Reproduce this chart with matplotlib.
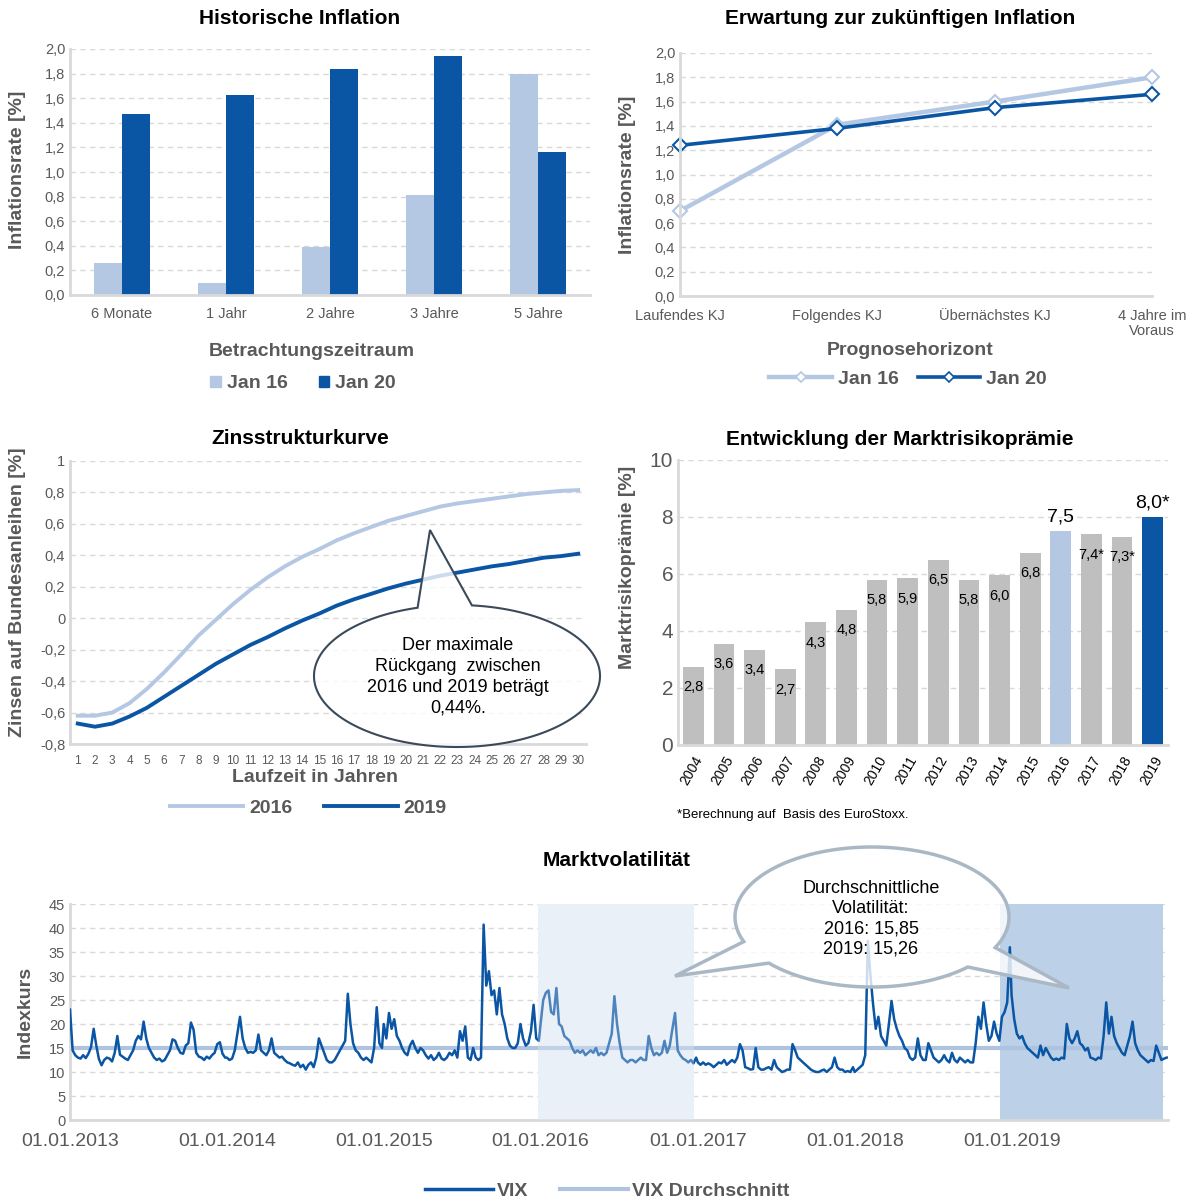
import numpy as np
import pandas as pd
import matplotlib
matplotlib.use('Agg')
import matplotlib.pyplot as plt
from matplotlib.path import Path
from matplotlib.patches import PathPatch, Patch
from matplotlib.lines import Line2D

plt.rcParams['font.family'] = ['Liberation Sans', 'DejaVu Sans']

# ---- data ----
hist_cats = ['6 Monate', '1 Jahr', '2 Jahre', '3 Jahre', '5 Jahre']
hist_jan16 = [0.26, 0.10, 0.39, 0.81, 1.80]
hist_jan20 = [1.47, 1.63, 1.84, 1.94, 1.16]

exp_cats = ['Laufendes KJ', 'Folgendes KJ', 'Übernächstes KJ', '4 Jahre im\nVoraus']
exp_jan16 = [0.70, 1.41, 1.60, 1.80]
exp_jan20 = [1.24, 1.38, 1.55, 1.66]

laufzeit = list(range(1, 31))
zins_2016 = [-0.62, -0.62, -0.60, -0.54, -0.45, -0.345, -0.23, -0.11, -0.01, 0.09,
             0.18, 0.26, 0.33, 0.39, 0.44, 0.495, 0.54, 0.58, 0.62, 0.65,
             0.68, 0.71, 0.73, 0.745, 0.76, 0.775, 0.79, 0.80, 0.81, 0.815]
zins_2019 = [-0.67, -0.69, -0.67, -0.625, -0.57, -0.50, -0.43, -0.36, -0.29, -0.23,
             -0.17, -0.12, -0.065, -0.015, 0.03, 0.08, 0.12, 0.155, 0.19, 0.22,
             0.245, 0.27, 0.29, 0.31, 0.33, 0.345, 0.365, 0.385, 0.395, 0.41]

mrp_years = list(range(2004, 2020))
mrp_values = [2.75, 3.55, 3.35, 2.65, 4.3, 4.75, 5.8, 5.85, 6.5, 5.8, 5.95, 6.75, 7.5, 7.4, 7.3, 8.0]
mrp_labels = ['2,8', '3,6', '3,4', '2,7', '4,3', '4,8', '5,8', '5,9', '6,5', '5,8', '6,0', '6,8',
              '7,5', '7,4*', '7,3*', '8,0*']

vix_2013 = [23.0, 14.5, 13.5, 13.0, 12.8, 13.5, 12.9, 13.8, 15.2, 19.0,
            15.5, 12.7, 11.4, 12.5, 13.0, 12.8, 12.2, 14.0, 17.5, 13.6,
            13.2, 12.8, 12.5, 13.5, 14.5, 16.5, 17.5, 16.8, 20.5, 17.0,
            15.0, 14.0, 13.0, 12.5, 12.8, 12.2, 12.5, 13.5, 14.5, 16.8,
            16.5, 15.0, 14.0, 13.8, 15.5, 16.0, 20.3, 18.8, 14.0, 13.2,
            13.0, 12.5, 13.2, 12.8, 13.5, 14.0, 15.8, 16.2, 13.8, 13.0]
vix_2014 = [13.0, 12.5, 12.8, 14.5, 18.0, 21.5, 17.0, 15.0, 14.0, 14.2,
            14.0, 14.5, 17.8, 14.5, 14.0, 13.5, 14.5, 17.0, 14.0, 13.5,
            13.0, 13.2, 12.5, 12.0, 11.8, 11.5, 11.3, 12.0, 11.0, 11.5,
            10.5, 11.5, 12.0, 11.0, 13.0, 17.0, 15.5, 14.0, 12.5, 12.0,
            12.0, 12.5, 13.5, 14.5, 15.5, 16.5, 26.3, 20.0, 16.0, 14.5,
            14.0, 13.0, 12.5, 13.0, 12.5, 12.0, 15.0, 23.5, 16.0, 15.0]
vix_2015 = [20.0, 17.0, 22.3, 19.0, 21.0, 17.5, 16.5, 15.0, 14.0, 13.5,
            15.5, 16.5, 15.0, 14.0, 15.0, 14.5, 13.5, 12.8, 13.5, 12.5,
            13.0, 14.0, 12.8, 12.5, 13.0, 14.0, 13.5, 14.5, 13.0, 18.5,
            16.5, 19.5, 13.0, 12.5, 15.0, 13.0, 12.5, 13.0, 40.7, 28.0,
            31.0, 26.0, 27.0, 22.0, 27.5, 22.0, 20.0, 17.0, 15.5, 15.0,
            15.0, 16.0, 20.0, 17.0, 15.5, 16.0, 18.5, 24.0, 17.0, 16.5]
vix_2016 = [20.0, 25.0, 26.5, 27.0, 22.5, 22.0, 27.5, 20.0, 19.5, 17.5,
            17.0, 16.5, 15.0, 14.0, 14.5, 14.0, 14.5, 13.5, 14.0, 14.5,
            14.0, 15.0, 13.5, 14.0, 13.5, 14.0, 16.0, 18.0, 25.8, 20.0,
            16.0, 13.0, 12.5, 12.0, 12.5, 12.5, 12.0, 12.5, 13.0, 12.5,
            12.5, 17.5, 15.0, 13.5, 14.0, 13.5, 14.0, 16.5, 14.0, 15.5,
            19.0, 22.3, 14.5, 13.5, 12.8, 12.5, 12.0, 12.5, 11.8, 13.0]
vix_2017 = [12.0, 11.5, 12.0, 11.5, 11.8, 11.5, 11.0, 11.5, 12.0, 11.8,
            12.5, 11.5, 12.0, 12.5, 12.0, 13.0, 15.8, 14.5, 11.0, 10.8,
            10.5, 10.6, 15.0, 11.0, 10.5, 10.5, 10.8, 11.0, 10.5, 12.5,
            11.0, 10.5, 10.0, 10.2, 10.5, 10.5, 15.8, 14.5, 13.0, 12.5,
            12.0, 11.5, 11.0, 10.5, 10.2, 10.0, 10.0, 10.3, 10.5, 10.0,
            10.5, 11.0, 13.0, 11.0, 10.5, 10.5, 10.0, 10.2, 10.0, 11.0]
vix_2018 = [10.0, 10.5, 11.0, 11.5, 13.5, 37.3, 30.0, 24.0, 19.0, 21.5,
            17.5, 16.5, 15.5, 20.0, 24.8, 21.0, 19.0, 17.5, 16.5, 15.0,
            14.5, 13.0, 12.5, 13.0, 17.0, 13.5, 12.5, 12.5, 16.0, 14.5,
            13.0, 12.5, 12.0, 12.5, 13.5, 12.5, 12.0, 14.0, 12.5, 12.0,
            13.0, 12.5, 12.0, 12.5, 12.0, 12.0, 16.0, 21.5, 19.0, 24.5,
            20.0, 16.5, 17.5, 20.5, 18.0, 16.5, 21.5, 22.5, 24.5, 36.0]
vix_2019 = [26.0, 21.0, 18.0, 17.0, 17.5, 16.0, 15.0, 14.5, 14.0, 13.5,
            13.0, 15.5, 13.5, 15.0, 14.0, 13.0, 12.5, 12.8, 12.5, 13.0,
            12.8, 20.0, 17.0, 16.0, 17.0, 18.5, 16.0, 15.5, 14.5, 15.0,
            13.0, 12.8, 12.5, 13.0, 12.8, 17.5, 24.5, 18.0, 21.5, 17.5,
            16.0, 15.0, 14.0, 13.5, 15.5, 17.5, 20.5, 16.0, 14.5, 13.5,
            13.0, 12.5, 12.0, 12.5, 12.3, 15.5, 14.0, 12.5, 12.8, 13.0]
vix_years = [2013, 2014, 2015, 2016, 2017, 2018, 2019]
vix_avg = 15.1
band_2016 = ('2015-12-27', '2016-12-22')
band_2019 = ('2018-12-05', '2019-12-20')

# ---- style ----
W, H = 1195, 1204
LIGHT = '#b4c7e3'
DARK = '#0a56a4'
BAR_GREY = '#bfbfbf'
TXT = '#595959'
GRID = '#d9d9d9'

fig = plt.figure(figsize=(W / 100, H / 100), dpi=100)


def px(x, y):
    return x / W, 1 - y / H


def add_axes(l, t, r, b):
    return fig.add_axes([l / W, 1 - b / H, (r - l) / W, (b - t) / H])


def style(ax, size=10.5):
    for s in ['top', 'right']:
        ax.spines[s].set_visible(False)
    for s in ['left', 'bottom']:
        ax.spines[s].set_color(GRID)
        ax.spines[s].set_linewidth(2)
    ax.grid(axis='y', color=GRID, linestyle=(0, (4, 3)), lw=1)
    ax.set_axisbelow(True)
    ax.tick_params(length=0, colors=TXT, labelsize=size)


def title(x, y, s):
    fig.text(*px(x, y), s, ha='center', va='center', fontsize=15, fontweight='bold')


def label(x, y, s, rot=0, size=14):
    fig.text(*px(x, y), s, ha='center', va='center', fontsize=size, fontweight='bold',
             color=TXT, rotation=rot)


def bubble(cx, cy, a, b, tails, ec, lw):
    pts = []
    cur = 0
    ell = lambda t: (cx + a * np.cos(np.radians(t)), cy + b * np.sin(np.radians(t)))
    for t1, t2, tx, ty in sorted(tails):
        for t in np.linspace(cur, t1, max(2, int(t1 - cur))):
            pts.append(ell(t))
        pts.append((tx, ty))
        cur = t2
    for t in np.linspace(cur, 360, max(2, int(360 - cur))):
        pts.append(ell(t))
    pts = [px(x, y) for x, y in pts]
    pts.append(pts[0])
    patch = PathPatch(Path(pts), transform=fig.transFigure, facecolor=(1, 1, 1, 0.8),
                      edgecolor=ec, lw=lw, zorder=5)
    fig.add_artist(patch)


def legend(ax, handles, labels, x, y, **kw):
    ax.legend(handles, labels, loc='center', bbox_to_anchor=px(x, y), bbox_transform=fig.transFigure,
              ncol=len(labels), frameon=False, prop={'weight': 'bold', 'size': 14},
              labelcolor=TXT, **kw)


# ---- Historische Inflation ----
ax1 = add_axes(70, 49, 590, 295)
style(ax1)
xi = np.arange(len(hist_cats))
bw = 0.27
ax1.bar(xi - bw / 2, hist_jan16, bw, color=LIGHT)
ax1.bar(xi + bw / 2, hist_jan20, bw, color=DARK)
ax1.set_xlim(-0.5, len(hist_cats) - 0.5)
ax1.set_ylim(0, 2.0)
ax1.set_yticks(np.arange(0, 2.01, 0.2))
ax1.set_yticklabels([f'{v:.1f}'.replace('.', ',') for v in np.arange(0, 2.01, 0.2)])
ax1.set_xticks(xi)
ax1.set_xticklabels(hist_cats)
ax1.tick_params(axis='x', pad=9)
title(300, 19, 'Historische Inflation')
label(18, 170, 'Inflationsrate [%]', rot=90)
label(312, 352, 'Betrachtungszeitraum')
legend(ax1, [Patch(color=LIGHT), Patch(color=DARK)], ['Jan 16', 'Jan 20'], 303, 384,
       handlelength=0.55, handleheight=0.55, handletextpad=0.3, columnspacing=1.6)

# ---- Erwartung zur zukuenftigen Inflation ----
ax2 = add_axes(680, 53, 1152, 296)
style(ax2)
xe = np.arange(len(exp_cats))
mk = dict(marker='D', markersize=7, markerfacecolor='white', markeredgewidth=1.5, clip_on=False)
ax2.plot(xe, exp_jan16, color=LIGHT, lw=3.2, **mk)
ax2.plot(xe, exp_jan20, color=DARK, lw=2.6, **mk)
ax2.set_xlim(0, len(exp_cats) - 1)
ax2.set_ylim(0, 2.0)
ax2.set_yticks(np.arange(0, 2.01, 0.2))
ax2.set_yticklabels([f'{v:.1f}'.replace('.', ',') for v in np.arange(0, 2.01, 0.2)])
ax2.set_xticks(xe)
ax2.set_xticklabels(exp_cats, linespacing=1.1, va='top')
ax2.tick_params(axis='x', pad=9)
title(900, 19, 'Erwartung zur zukünftigen Inflation')
label(628, 175, 'Inflationsrate [%]', rot=90)
label(910, 350, 'Prognosehorizont')
mk_leg = dict(mk, markersize=5.5, markeredgewidth=1.2)
legend(ax2, [Line2D([], [], color=LIGHT, lw=3.2, **mk_leg), Line2D([], [], color=DARK, lw=2.6, **mk_leg)],
       ['Jan 16', 'Jan 20'], 908, 379, handlelength=3.2, handletextpad=0.3, columnspacing=1.0)

# ---- Zinsstrukturkurve ----
ax3 = add_axes(70, 461, 586, 744)
style(ax3)
ax3.plot(laufzeit, zins_2016, color=LIGHT, lw=2.8)
ax3.plot(laufzeit, zins_2019, color=DARK, lw=2.8)
ax3.set_xlim(0.55, 30.45)
ax3.set_ylim(-0.8, 1.0)
yt = np.round(np.arange(-0.8, 1.01, 0.2), 1)
ax3.set_yticks(yt)
ax3.set_yticklabels(['0' if v == 0 else ('1' if v == 1 else f'{v:.1f}'.replace('.', ',')) for v in yt])
ax3.set_xticks(laufzeit)
ax3.tick_params(axis='x', labelsize=8.5, pad=8)
title(300, 439, 'Zinsstrukturkurve')
label(18, 592, 'Zinsen auf Bundesanleihen [%]', rot=90)
label(315, 778, 'Laufzeit in Jahren')
legend(ax3, [Line2D([], [], color=LIGHT, lw=2.8), Line2D([], [], color=DARK, lw=2.8)],
       ['2016', '2019'], 308, 808, handlelength=3.8, handletextpad=0.3, columnspacing=1.6)
bubble(457, 676, 143, 71, [(254, 276, 430, 530)], '#3b4a5a', 1.5)
fig.text(*px(458, 677), 'Der maximale\nRückgang  zwischen\n2016 und 2019 beträgt\n0,44%.',
         ha='center', va='center', fontsize=13, linespacing=1.3, zorder=6)

# ---- Marktrisikopraemie ----
ax4 = add_axes(678, 460, 1168, 745)
style(ax4, size=15)
xm = np.arange(len(mrp_years))
highlight = {2016: LIGHT, 2019: DARK}
colors = [highlight.get(y, BAR_GREY) for y in mrp_years]
ax4.bar(xm, mrp_values, 0.68, color=colors)
for i, (y, v, s) in enumerate(zip(mrp_years, mrp_values, mrp_labels)):
    if y in highlight:
        ax4.text(i, v + 0.2, s, ha='center', va='bottom', fontsize=14)
    else:
        ax4.text(i, v - 0.72, s, ha='center', va='center', fontsize=10.5)
ax4.set_xlim(-0.5, len(mrp_years) - 0.5)
ax4.set_ylim(0, 10)
ax4.set_yticks(range(0, 11, 2))
ax4.set_xticks(xm)
ax4.set_xticklabels([str(y) for y in mrp_years], rotation=60, ha='right', rotation_mode='anchor',
                    fontsize=10, color='black')
ax4.tick_params(axis='x', pad=6)
title(900, 440, 'Entwicklung der Marktrisikoprämie')
label(627, 567, 'Marktrisikoprämie [%]', rot=90)
fig.text(*px(677, 815), '*Berechnung auf  Basis des EuroStoxx.', ha='left', va='center', fontsize=9.5)

# ---- Marktvolatilitaet ----
ax5 = add_axes(70, 904, 1168, 1120)
style(ax5)
vix_vals = [vix_2013, vix_2014, vix_2015, vix_2016, vix_2017, vix_2018, vix_2019]
dates, vals = [], []
for yr, v in zip(vix_years, vix_vals):
    dates.extend(pd.date_range(f'{yr}-01-01', f'{yr}-12-28', periods=len(v)))
    vals.extend(v)
b16 = (pd.Timestamp(band_2016[0]), pd.Timestamp(band_2016[1]))
ax5.axvspan(pd.Timestamp(band_2019[0]), pd.Timestamp(band_2019[1]), color='#bcd0e7', lw=0, zorder=1)
ax5.axvspan(*b16, color='#eaf0f8', lw=0, zorder=1)
ax5.axhline(vix_avg, color='#adc3e0', lw=3, zorder=2)
ax5.plot(dates, vals, color=DARK, lw=1.8, zorder=3)
ax5.axvspan(*b16, color='#eaf0f8', alpha=0.3, lw=0, zorder=4)
ax5.set_xlim(pd.Timestamp('2013-01-01'), pd.Timestamp('2019-12-31'))
ax5.set_ylim(0, 45)
ax5.set_yticks(range(0, 46, 5))
ax5.set_xticks([pd.Timestamp(f'{y}-01-01') for y in vix_years])
ax5.set_xticklabels([f'01.01.{y}' for y in vix_years])
ax5.tick_params(axis='x', labelsize=14, pad=9)
title(617, 860, 'Marktvolatilität')
label(25, 1012, 'Indexkurs', rot=90)
legend(ax5, [Line2D([], [], color=DARK, lw=2.5), Line2D([], [], color='#adc3e0', lw=3)],
       ['VIX', 'VIX Durchschnitt'], 607, 1191, handlelength=3.5, handletextpad=0.2, columnspacing=1.6)
bubble(872, 917, 137, 70, [(25.9, 45.6, 1069, 988), (138.8, 159.4, 675, 976)], '#aab8c6', 2.5)
fig.text(*px(871, 919), 'Durchschnittliche\nVolatilität:\n2016: 15,85\n2019: 15,26',
         ha='center', va='center', fontsize=13, linespacing=1.25, zorder=6)

fig.savefig('out.png', dpi=100)
